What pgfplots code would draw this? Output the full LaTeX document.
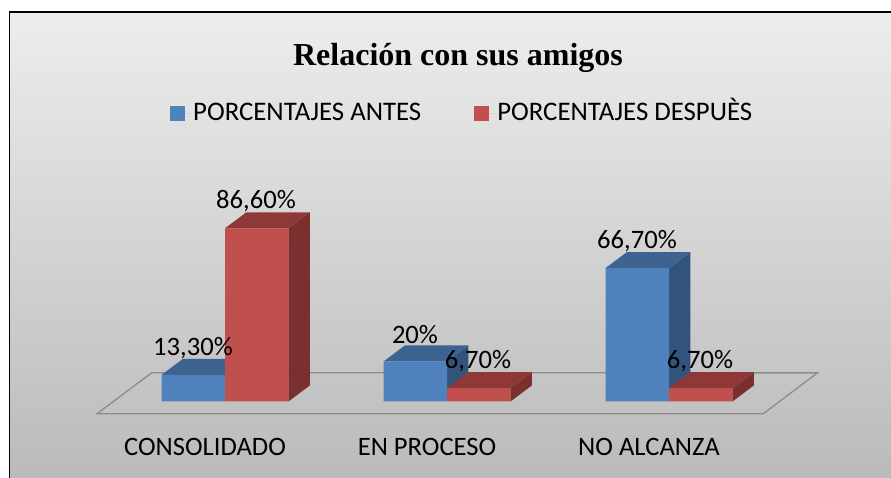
\documentclass[border=0pt]{standalone}
\usepackage{pgfplots}
\usepackage{pgfplotstable}
\usepackage{fontspec}
\pgfplotsset{compat=1.18}
\setmainfont{Carlito}
\newfontfamily\titlefont{Liberation Serif}

\definecolor{blueF}{HTML}{4F81BD}
\definecolor{blueT}{HTML}{3E6391}
\definecolor{blueS}{HTML}{32547C}
\definecolor{redF}{HTML}{C0504D}
\definecolor{redT}{HTML}{8E3937}
\definecolor{redS}{HTML}{7A302E}

\pgfplotstableread{
x v lab
0 13.3 13,30\%
1 20 20\%
2 66.7 66,70\%
}\antes
\pgfplotstableread{
x v lab
0 86.6 86,60\%
1 6.7 6,70\%
2 6.7 6,70\%
}\despues

\pgfplotsset{
    square legend/.style={legend image code/.code={
        \path (0pt,0pt) -- (21pt,0pt);
        \fill[##1] (0pt,-7.5pt) rectangle (15pt,7.5pt);}},
    labels/.style={forget plot, draw=none, fill=none,
        point meta=explicit symbolic, nodes near coords,
        every node near coord/.style={anchor=center, xshift=#1, yshift=27pt, font=\fontsize{26.6}{30}\selectfont}},
}

\begin{document}
\begin{tikzpicture}[x=1pt,y=1pt]
\useasboundingbox (0,0) rectangle (891,478);
\fill[white] (0,0) rectangle (891,478);
\path[top color=white!93!black, bottom color=white!73!black] (9.5,0) rectangle (891,466);
\draw[black,line width=1.5pt] (9.5,0) -- (9.5,466) -- (891,466);
\begin{axis}[
    at={(0,0)}, anchor=south west,
    scale only axis,
    width=891pt, height=478pt,
    xmin=-1.0135, xmax=3,
    ymin=-38.25, ymax=200.75,
    clip=false,
    axis line style={draw=none},
    xtick={0,1,2},
    xticklabels={CONSOLIDADO,EN PROCESO,NO ALCANZA},
    ytick=\empty,
    major tick length=0pt,
    xticklabel style={anchor=center, yshift=31pt, xshift=-20pt},
    tick label style={font=\fontsize{26.6}{30}\selectfont},
    title={\titlefont\bfseries\fontsize{32}{38}\selectfont Relación con sus amigos},
    title style={at={(458pt,414pt)}, anchor=center},
    legend columns=2,
    legend style={at={(170pt,364.5pt)}, anchor=west, draw=none, fill=none,
        font=\fontsize{26.8}{30}\selectfont, inner sep=0pt,
        nodes={text height=19pt, text depth=5pt},
        /tikz/every even column/.append style={column sep=51pt}},
    ybar, bar width=0.286,
]
% floor
\addplot[forget plot, sharp plot, no marks, draw=black!45, line width=1.3pt]
    coordinates {(-0.576,-6.1) (-0.33,14.4) (2.668,14.3) (2.425,-6.1)} --cycle;

% blue: side and top, then front
\addplot[forget plot, sharp plot, no marks, draw=none, fill=blueT]
    coordinates {(-0.286,13.3) (0,13.3) (0.096,21.3) (-0.19,21.3)} --cycle;
\addplot[forget plot, sharp plot, no marks, draw=none, fill=blueS]
    coordinates {(1,0) (1.096,8) (1.096,28) (1,20)} --cycle;
\addplot[forget plot, sharp plot, no marks, draw=none, fill=blueT]
    coordinates {(0.714,20) (1,20) (1.096,28) (0.81,28)} --cycle;
\addplot[forget plot, sharp plot, no marks, draw=none, fill=blueS]
    coordinates {(2,0) (2.096,8) (2.096,74.7) (2,66.7)} --cycle;
\addplot[forget plot, sharp plot, no marks, draw=none, fill=blueT]
    coordinates {(1.714,66.7) (2,66.7) (2.096,74.7) (1.81,74.7)} --cycle;
\addplot[ybar, bar shift=-0.143, draw=none, fill=blueF, square legend] table[x=x,y=v] {\antes};
\addlegendentry{PORCENTAJES ANTES}

% red: side and top, then front
\addplot[forget plot, sharp plot, no marks, draw=none, fill=redS]
    coordinates {(0.286,0) (0.382,8) (0.382,94.6) (0.286,86.6)} --cycle;
\addplot[forget plot, sharp plot, no marks, draw=none, fill=redT]
    coordinates {(0,86.6) (0.286,86.6) (0.382,94.6) (0.096,94.6)} --cycle;
\addplot[forget plot, sharp plot, no marks, draw=none, fill=redS]
    coordinates {(1.286,0) (1.382,8) (1.382,14.7) (1.286,6.7)} --cycle;
\addplot[forget plot, sharp plot, no marks, draw=none, fill=redT]
    coordinates {(1,6.7) (1.286,6.7) (1.382,14.7) (1.096,14.7)} --cycle;
\addplot[forget plot, sharp plot, no marks, draw=none, fill=redS]
    coordinates {(2.286,0) (2.382,8) (2.382,14.7) (2.286,6.7)} --cycle;
\addplot[forget plot, sharp plot, no marks, draw=none, fill=redT]
    coordinates {(2,6.7) (2.286,6.7) (2.382,14.7) (2.096,14.7)} --cycle;
\addplot[ybar, bar shift=0.143, draw=none, fill=redF, square legend] table[x=x,y=v] {\despues};
\addlegendentry{PORCENTAJES DESPUÈS}

% data labels last, so that they sit over the bars
\addplot[labels=-32pt] table[x=x,y=v,meta=lab] {\antes};
\addplot[labels=31pt] table[x=x,y=v,meta=lab] {\despues};
\end{axis}
\end{tikzpicture}
\end{document}
